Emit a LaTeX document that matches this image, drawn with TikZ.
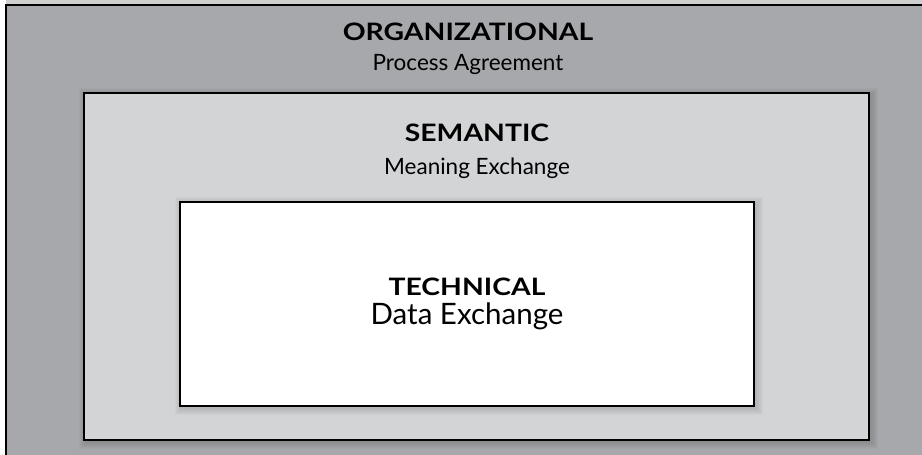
\documentclass[tikz,border=0pt]{standalone}
\usepackage{fontspec}
\setmainfont{Lato}
\definecolor{outergray}{HTML}{A7A8AB}
\definecolor{midgray}{HTML}{D3D4D6}
\definecolor{stripgray}{HTML}{CFCFD0}
\newcommand{\widecaps}[1]{\scalebox{1.18}[1]{#1}}
\begin{document}
\begin{tikzpicture}[x=1pt,y=-1pt,
  box/.style={draw=black, line width=1.4pt, inner sep=0pt, outer sep=0pt, anchor=north west},
  ttl/.style={font=\bfseries\fontsize{24}{24}\selectfont, anchor=base, inner sep=0pt},
  sub/.style={font=\fontsize{22.5}{22.5}\selectfont, anchor=base, inner sep=0pt},
  big/.style={font=\fontsize{29.5}{29.5}\selectfont, anchor=base, inner sep=0pt}]
\useasboundingbox (0,0) rectangle (922,455);
\clip (0,0) rectangle (922,455);
\fill[white] (0,0) rectangle (922,455);
\fill[stripgray] (6,0) rectangle (922,5);
\node[box, fill=outergray, line width=1.8pt, minimum width=940pt, minimum height=480pt] (outer) at (6,5) {};
% soft shadow of the semantic box
\foreach \i in {1,...,7}
  \fill[black, opacity=0.02] ({84-\i+2},{93-\i+2}) rectangle ({869+\i+2},{440+\i+2});
\node[box, fill=midgray, minimum width=785pt, minimum height=347pt] (middle) at (84,93) {};
% soft shadow of the technical box
\foreach \i in {1,...,7}
  \fill[black, opacity=0.02] ({180-\i+2},{202-\i+2}) rectangle ({754+\i+2},{406+\i+2});
\node[box, fill=white, minimum width=574pt, minimum height=204pt] (inner) at (180,202) {};
\node[ttl] (org) at (468,40) {\widecaps{ORGANIZATIONAL}};
\node[sub] (proc) at (468,70) {Process Agreement};
\node[ttl] (sem) at (477,141.7) {\widecaps{SEMANTIC}};
\node[sub] (mean) at (477,174) {Meaning Exchange};
\node[ttl] (tech) at (467,295) {\widecaps{TECHNICAL}};
\node[big] (data) at (467,324) {Data Exchange};
\end{tikzpicture}
\end{document}
